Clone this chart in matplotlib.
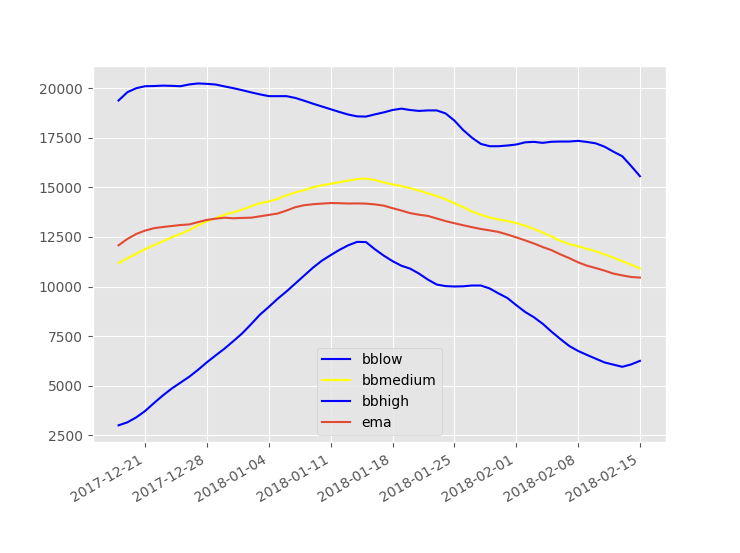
import pandas as pd
import matplotlib
matplotlib.use("Agg")
import matplotlib.pyplot as plt
import matplotlib.dates as mdates

dates = pd.date_range("2017-12-18", "2018-02-15", freq="D")

bblow = [19380, 19800, 20000, 20100, 20110, 20130, 20120, 20100, 20190, 20240,
         20220, 20185, 20090, 20000, 19900, 19790, 19690, 19600, 19600, 19600,
         19510, 19370, 19220, 19080, 18940, 18800, 18670, 18580, 18570, 18680,
         18780, 18900, 18970, 18900, 18855, 18880, 18880, 18730, 18370, 17890,
         17500, 17190, 17075, 17075, 17110, 17160, 17270, 17294, 17244, 17300,
         17311, 17311, 17345, 17290, 17220, 17050, 16800, 16570, 16080, 15562]

bbmedium = [11180, 11420, 11650, 11880, 12080, 12280, 12480, 12650, 12850, 13080,
            13290, 13450, 13620, 13740, 13880, 14050, 14200, 14290, 14420, 14600,
            14740, 14860, 15000, 15100, 15180, 15260, 15340, 15420, 15440, 15370,
            15250, 15150, 15060, 14960, 14840, 14700, 14560, 14400, 14200, 14000,
            13780, 13620, 13480, 13380, 13300, 13200, 13070, 12900, 12720, 12520,
            12300, 12140, 12030, 11900, 11780, 11620, 11450, 11280, 11100, 10910]

bbhigh = [3000, 3150, 3400, 3720, 4120, 4500, 4850, 5150, 5450, 5800,
          6180, 6530, 6870, 7250, 7640, 8100, 8580, 8970, 9380, 9750,
          10150, 10550, 10950, 11300, 11580, 11850, 12080, 12250, 12240, 11880,
          11560, 11280, 11050, 10900, 10650, 10350, 10100, 10020, 10000, 10010,
          10050, 10050, 9900, 9650, 9420, 9060, 8720, 8450, 8120, 7720,
          7350, 7000, 6750, 6550, 6360, 6170, 6060, 5950, 6070, 6250]

ema = [12080, 12400, 12650, 12820, 12940, 13000, 13050, 13100, 13130, 13250,
       13360, 13420, 13470, 13440, 13460, 13470, 13540, 13610, 13680, 13830,
       14000, 14100, 14150, 14180, 14210, 14200, 14185, 14190, 14180, 14140,
       14080, 13950, 13830, 13700, 13620, 13560, 13430, 13300, 13190, 13090,
       12990, 12900, 12830, 12750, 12620, 12480, 12330, 12170, 11990, 11830,
       11620, 11430, 11220, 11050, 10930, 10800, 10650, 10560, 10480, 10450]

plt.style.use("ggplot")
fig, ax = plt.subplots(figsize=(7.4, 5.53), dpi=100)

ax.plot(dates, bblow, color="blue", label="bblow")
ax.plot(dates, bbmedium, color="yellow", label="bbmedium")
ax.plot(dates, bbhigh, color="blue", label="bbhigh")
ax.plot(dates, ema, label="ema")

ax.xaxis.set_major_locator(mdates.WeekdayLocator(byweekday=mdates.TH))
ax.xaxis.set_major_formatter(mdates.DateFormatter("%Y-%m-%d"))
ax.legend(loc="lower center")
fig.autofmt_xdate()

fig.savefig("out.png")
